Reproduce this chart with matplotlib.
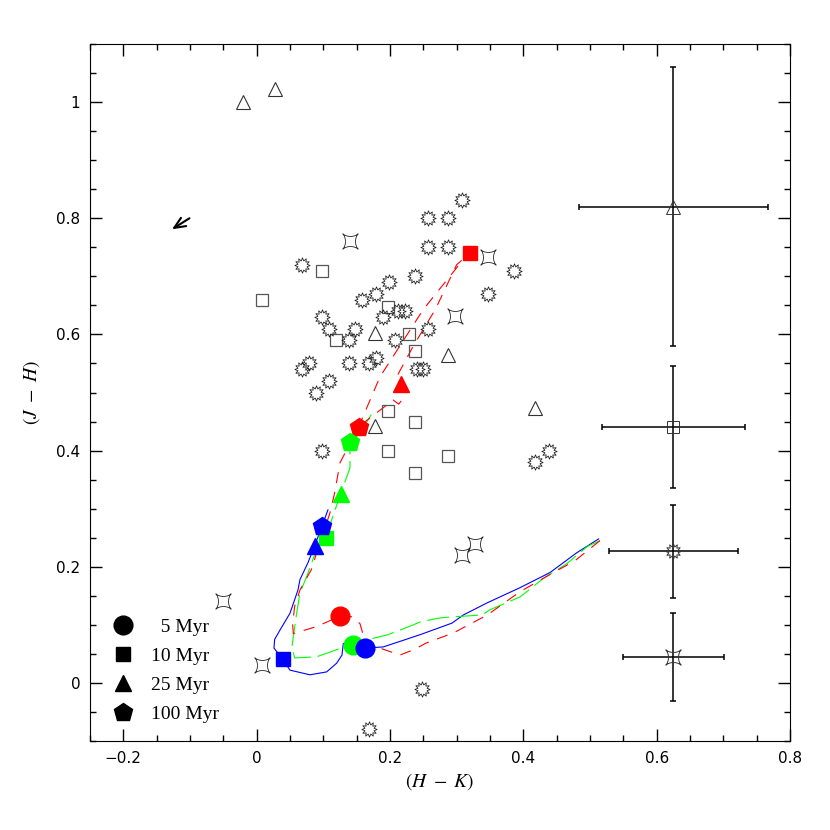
import numpy as np
import matplotlib
matplotlib.use('Agg')
import matplotlib.pyplot as plt
from matplotlib.path import Path
from matplotlib.lines import Line2D
from matplotlib.ticker import MultipleLocator, FuncFormatter

plt.rcParams['mathtext.fontset'] = 'stix'

# observed sources, grouped by symbol
tri_x = [-0.02, 0.028, 0.177, 0.177, 0.287, 0.417]
tri_y = [1.0, 1.022, 0.603, 0.443, 0.564, 0.474]

sq_x = [0.008, 0.098, 0.119, 0.197, 0.229, 0.238, 0.197, 0.238, 0.197, 0.287, 0.238]
sq_y = [0.66, 0.71, 0.59, 0.648, 0.60, 0.571, 0.469, 0.45, 0.40, 0.39, 0.362]

sb_x = [0.308, 0.257, 0.287, 0.257, 0.287, 0.068, 0.238, 0.386, 0.198, 0.347,
        0.179, 0.158, 0.189, 0.212, 0.222, 0.098, 0.108, 0.148, 0.257, 0.138,
        0.207, 0.068, 0.078, 0.138, 0.168, 0.179, 0.24, 0.25, 0.108, 0.089,
        0.098, 0.418, 0.438, 0.248, 0.168]
sb_y = [0.831, 0.80, 0.80, 0.75, 0.75, 0.72, 0.70, 0.71, 0.69, 0.67,
        0.67, 0.66, 0.63, 0.64, 0.64, 0.63, 0.61, 0.61, 0.61, 0.59,
        0.59, 0.54, 0.55, 0.55, 0.55, 0.56, 0.54, 0.54, 0.52, 0.50,
        0.40, 0.38, 0.40, -0.01, -0.08]

ast_x = [0.14, 0.347, 0.298, 0.308, 0.328, -0.051, 0.0075]
ast_y = [0.76, 0.733, 0.631, 0.221, 0.24, 0.141, 0.031]

# typical error bars (x, y, xerr, yerr) for each symbol
err_x = [0.625, 0.625, 0.625, 0.625]
err_y = [0.82, 0.44, 0.227, 0.045]
err_xe = [0.142, 0.107, 0.097, 0.076]
err_ye = [0.24, 0.105, 0.08, 0.076]

# model tracks
red_x = [0.515, 0.477, 0.445, 0.395, 0.346, 0.295, 0.255, 0.235, 0.215, 0.185, 0.165,
         0.16, 0.155, 0.143, 0.125, 0.09, 0.055, 0.054, 0.057, 0.065, 0.082, 0.09,
         0.10, 0.11, 0.117, 0.125, 0.153, 0.185, 0.25, 0.31, 0.32, 0.30, 0.268,
         0.235, 0.21, 0.2165, 0.22, 0.213, 0.205, 0.173, 0.153]
red_y = [0.245, 0.21, 0.19, 0.157, 0.117, 0.086, 0.069, 0.057, 0.048, 0.06, 0.064,
         0.082, 0.102, 0.114, 0.115, 0.097, 0.085, 0.1, 0.132, 0.16, 0.195, 0.224,
         0.258, 0.293, 0.327, 0.379, 0.441, 0.527, 0.643, 0.729, 0.74, 0.72, 0.643,
         0.58, 0.527, 0.514, 0.49, 0.48, 0.487, 0.459, 0.441]

green_x = [0.515, 0.496, 0.465, 0.43, 0.395, 0.35, 0.338, 0.298, 0.275, 0.245, 0.235,
           0.197, 0.165, 0.144, 0.09, 0.057, 0.053, 0.055, 0.06, 0.065, 0.075, 0.09,
           0.104, 0.126, 0.14, 0.14, 0.155, 0.172]
green_y = [0.245, 0.235, 0.205, 0.18, 0.148, 0.126, 0.117, 0.114, 0.112, 0.105, 0.10,
           0.083, 0.074, 0.067, 0.045, 0.043, 0.062, 0.08, 0.12, 0.155, 0.183, 0.23,
           0.252, 0.326, 0.37, 0.414, 0.43, 0.462]

blue_x = [0.513, 0.48, 0.44, 0.395, 0.346, 0.31, 0.293, 0.245, 0.19, 0.162, 0.13,
          0.128, 0.12, 0.105, 0.08, 0.05, 0.039, 0.026, 0.027, 0.035, 0.05, 0.062,
          0.065, 0.077, 0.087, 0.098, 0.107]
blue_y = [0.248, 0.224, 0.19, 0.164, 0.138, 0.117, 0.103, 0.083, 0.062, 0.06, 0.068,
          0.048, 0.034, 0.019, 0.014, 0.022, 0.041, 0.06, 0.075, 0.091, 0.12, 0.16,
          0.178, 0.207, 0.236, 0.27, 0.298]

# age markers on each track: 5, 10, 25, 100 Myr
ages = ['  5 Myr', '10 Myr', '25 Myr', '100 Myr']
red_age_x = [0.125, 0.32, 0.2165, 0.153]
red_age_y = [0.1155, 0.741, 0.514, 0.441]
green_age_x = [0.144, 0.104, 0.126, 0.14]
green_age_y = [0.0655, 0.25, 0.326, 0.414]
blue_age_x = [0.162, 0.039, 0.087, 0.098]
blue_age_y = [0.06, 0.041, 0.236, 0.27]

# arrow (reddening vector)
arrow_tail = (-0.1008, 0.80)
arrow_head = (-0.127, 0.781)


def sunburst(n=12, inner=0.62):
    ang = np.arange(2 * n) * np.pi / n + np.pi / 2
    r = np.where(np.arange(2 * n) % 2 == 0, 1.0, inner)
    v = np.column_stack([r * np.cos(ang), r * np.sin(ang)])
    v = np.vstack([v, v[:1]])
    return Path(v, closed=True)


def astroid(p=3.2):
    t = np.linspace(0, 2 * np.pi, 161)
    x = np.sign(np.cos(t)) * np.abs(np.cos(t)) ** p
    y = np.sign(np.sin(t)) * np.abs(np.sin(t)) ** p
    c, s = np.cos(np.pi / 4), np.sin(np.pi / 4)
    v = np.column_stack([c * x - s * y, s * x + c * y])
    return Path(v, closed=True)


SB = sunburst()
AST = astroid()
age_mk = ['o', 's', '^', 'p']
age_ms = [13.5, 10, 11.5, 13.5]

fig = plt.figure(figsize=(8.3, 8.3), dpi=100)
ax = fig.add_axes([0.1084, 0.1072, 0.8434, 0.8398])

# tracks
ax.plot(blue_x, blue_y, color='#0000ff', lw=0.8, zorder=2)
ax.plot(green_x, green_y, color='#00ff00', lw=0.8, dashes=(20, 6), zorder=2)
ax.plot(red_x, red_y, color='#ff0000', lw=0.8, dashes=(10, 8), zorder=2)

for xs, ys, col in [(red_age_x, red_age_y, '#ff0000'),
                    (green_age_x, green_age_y, '#00ff00'),
                    (blue_age_x, blue_age_y, '#0000ff')]:
    for i in range(4):
        ax.plot(xs[i], ys[i], marker=age_mk[i], ms=age_ms[i], color=col,
                mec=col, ls='none', zorder=4)

# data points
ec = '#333333'
ax.plot(tri_x, tri_y, ls='none', marker='^', ms=10, mfc='none', mec=ec, mew=0.8, zorder=3)
ax.plot(sq_x, sq_y, ls='none', marker='s', ms=8.6, mfc='none', mec='#555555', mew=0.9, zorder=3)
ax.plot(sb_x, sb_y, ls='none', marker=SB, ms=11, mfc='none', mec='#222222', mew=0.6, zorder=3)
ax.plot(ast_x, ast_y, ls='none', marker=AST, ms=11, mfc='none', mec='#222222', mew=0.6, zorder=3)

# error bars
ax.errorbar(err_x, err_y, xerr=err_xe, yerr=err_ye, fmt='none', ecolor='black',
            elinewidth=1.1, capsize=2.5, capthick=1.1, zorder=3)
err_mk = ['^', 's', SB, AST]
err_ms = [10, 8.6, 11, 11]
for i in range(4):
    ax.plot(err_x[i], err_y[i], marker=err_mk[i], ms=err_ms[i], mfc='none',
            mec=ec, mew=0.7, ls='none', zorder=4)

ax.annotate('', xy=arrow_head, xytext=arrow_tail,
            arrowprops=dict(arrowstyle='->,head_length=0.8,head_width=0.35',
                            lw=1.5, color='black', shrinkA=0, shrinkB=0))

# legend for ages
handles = [Line2D([], [], ls='none', marker=age_mk[i], ms=age_ms[i], color='black')
           for i in range(4)]
ax.legend(handles, ages, loc='upper left', bbox_to_anchor=(0.034, 0.176),
          frameon=False, handlelength=1.0, handletextpad=0.9, labelspacing=0.58,
          borderpad=0, borderaxespad=0,
          prop={'family': 'Liberation Serif', 'size': 14})

ax.set_xlim(-0.25, 0.8)
ax.set_ylim(-0.1, 1.1)
ax.xaxis.set_major_locator(MultipleLocator(0.2))
ax.xaxis.set_minor_locator(MultipleLocator(0.05))
ax.yaxis.set_major_locator(MultipleLocator(0.2))
ax.yaxis.set_minor_locator(MultipleLocator(0.05))
fmt = FuncFormatter(lambda v, p: ('%g' % round(v, 3)).replace('-', '\u2212'))
ax.xaxis.set_major_formatter(fmt)
ax.yaxis.set_major_formatter(fmt)
ax.tick_params(which='both', direction='in', top=True, right=True, labelsize=11)
ax.tick_params(which='major', length=8.5, width=1.0, pad=7)
ax.tick_params(which='minor', length=4.3, width=1.0)

ax.set_xlabel(r'$(H\ -\ K)$', fontsize=14, labelpad=4)
ax.set_ylabel(r'$(J\ -\ H)$', fontsize=14, labelpad=10)

fig.savefig('out.png', dpi=100)
